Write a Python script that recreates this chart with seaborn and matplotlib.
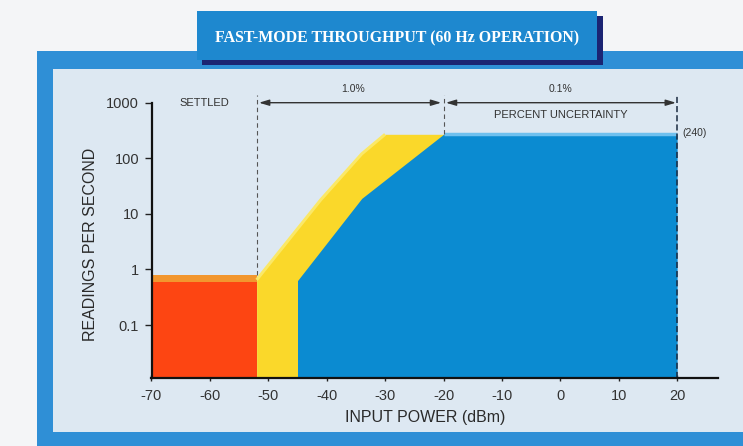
import matplotlib
matplotlib.use("Agg")
import matplotlib.pyplot as plt
from matplotlib.patches import Rectangle
from matplotlib.ticker import FixedLocator, FixedFormatter, NullLocator
import seaborn as sns
import pandas as pd

# ---------------- data ----------------
settled_x = [-70, -52]
settled_y = [0.6, 0.6]
settled_cap_y = [0.8, 0.8]

one_pct_x = [-52, -41, -34, -30, -20]
one_pct_y = [0.65, 18, 120, 270, 270]

tenth_pct_x = [-45, -34, -20, 20]
tenth_pct_y = [0.63, 19, 270, 270]

x_ticks = [-70, -60, -50, -40, -30, -20, -10, 0, 10, 20]
y_ticks = [0.1, 1, 10, 100, 1000]
y_tick_labels = ["0.1", "1", "10", "100", "1000"]

title = "FAST-MODE THROUGHPUT (60 Hz OPERATION)"
x_label = "INPUT POWER (dBm)"
y_label = "READINGS PER SECOND"

# ---------------- style ----------------
sns.set_theme(style="ticks")
plt.rcParams["font.family"] = ["Liberation Sans", "DejaVu Sans"]

W, H = 743, 446
fig = plt.figure(figsize=(W / 100, H / 100), dpi=100)
fig.patch.set_facecolor("#f4f5f7")


def fx(px):
    return px / W


def fy(py):
    return 1 - py / H


def frect(x0, y0, x1, y1, color, z):
    fig.patches.append(Rectangle((fx(x0), fy(y1)), fx(x1) - fx(x0), fy(y0) - fy(y1),
                                 transform=fig.transFigure, facecolor=color,
                                 edgecolor="none", zorder=z))


# frame and panel
frect(37, 51, 760, 460, "#2f8fd6", -10)
frect(53, 69, 760, 432, "#dde8f2", -9)
# title box with navy shadow
frect(202, 16, 603, 65, "#1b2473", -8)
frect(197, 11, 597, 60, "#1e88cf", -7)
fig.text(fx(397), fy(38), title, color="white", ha="center", va="center",
         fontsize=11.4, fontweight="bold", family=["Liberation Serif", "DejaVu Serif"])

# axes
x0, x1 = 151.5, 718.0
ytop, ybot = 102.7, 378.3
ax = fig.add_axes([fx(x0), fy(ybot), fx(x1) - fx(x0), fy(ytop) - fy(ybot)])
ax.set_facecolor("none")
ax.set_yscale("log")
ax.set_xlim(-70, 27)
ax.set_ylim(0.011, 1000)

base = 0.005
ax.fill_between(settled_x, base, settled_cap_y, color="#f2962e", lw=0, zorder=2)
ax.fill_between(settled_x, base, settled_y, color="#fd4512", lw=0, zorder=3)
ax.fill_between(one_pct_x, base, one_pct_y, color="#fad82a", lw=0, zorder=2)
ax.fill_between(tenth_pct_x, base, tenth_pct_y, color="#0b8bd1", lw=0, zorder=4)

# highlights
hl_yel = pd.DataFrame({"x": one_pct_x[:4], "y": one_pct_y[:4]})
sns.lineplot(data=hl_yel, x="x", y="y", sort=False, estimator=None,
             color="#fbe866", lw=2.2, ax=ax, zorder=3, solid_capstyle="butt",
             solid_joinstyle="round")
hl_blue = pd.DataFrame({"x": tenth_pct_x[2:], "y": tenth_pct_y[2:]})
sns.lineplot(data=hl_blue, x="x", y="y", sort=False, estimator=None,
             color="#6fc0ee", lw=2.5, ax=ax, zorder=5, solid_capstyle="butt")

# dashed boundaries
dash_top = 1400
ax.vlines(-52, settled_cap_y[0], dash_top, colors="#555555", lw=0.8,
          linestyles=(0, (4, 3)), clip_on=False, zorder=6)
ax.vlines(-20, tenth_pct_y[-1], dash_top, colors="#555555", lw=0.8,
          linestyles=(0, (4, 3)), clip_on=False, zorder=6)
ax.vlines(20, 0.011, dash_top, colors="#1a2a40", lw=1.1,
          linestyles=(0, (4, 2)), clip_on=False, zorder=6)

# arrows
arrow_kw = dict(arrowstyle="<|-|>,head_length=0.5,head_width=0.15", color="#333333",
                lw=1.0, shrinkA=0, shrinkB=0)
ax.annotate("", xy=(-51.6, 1000), xytext=(-20.4, 1000), arrowprops=arrow_kw,
            annotation_clip=False)
ax.annotate("", xy=(-19.6, 1000), xytext=(19.8, 1000), arrowprops=arrow_kw,
            annotation_clip=False)

tc = "#333333"
ax.text(-35.5, 1780, "1.0%", ha="center", va="center", fontsize=7.5, color=tc, clip_on=False)
ax.text(0, 1780, "0.1%", ha="center", va="center", fontsize=7.5, color=tc, clip_on=False)
ax.text(0, 590, "PERCENT UNCERTAINTY", ha="center", va="center", fontsize=8, color=tc)
ax.text(-61, 1000, "SETTLED", ha="center", va="center", fontsize=8, color=tc, clip_on=False)
ax.text(20.9, 280, "(240)", ha="left", va="center", fontsize=7.5, color=tc, clip_on=False)

# axes styling
for s in ["top", "right"]:
    ax.spines[s].set_visible(False)
for s in ["left", "bottom"]:
    ax.spines[s].set_color("#111111")
    ax.spines[s].set_linewidth(1.6)
    ax.spines[s].set_zorder(8)

ax.yaxis.set_major_locator(FixedLocator(y_ticks))
ax.yaxis.set_major_formatter(FixedFormatter(y_tick_labels))
ax.yaxis.set_minor_locator(NullLocator())
ax.set_xticks(x_ticks)
ax.set_xticklabels([str(v) for v in x_ticks])
ax.tick_params(axis="y", direction="out", length=5, width=1, color="#222222",
               labelsize=10.5, labelcolor="#333333", pad=4)
ax.tick_params(axis="x", direction="inout", length=5, width=1, color="#222222",
               labelsize=10.5, labelcolor="#333333", pad=5)

ax.set_xlabel(x_label, fontsize=11.5, color="#2a2a2a")
ax.set_ylabel(y_label, fontsize=11.5, color="#2a2a2a")
ax.xaxis.set_label_coords((425 - x0) / (x1 - x0), (ybot - 410) / (ybot - ytop))
ax.yaxis.set_label_coords((98 - x0) / (x1 - x0), (ybot - 244) / (ybot - ytop))
ax.grid(False)

fig.savefig("out.png", dpi=100, facecolor=fig.get_facecolor())
